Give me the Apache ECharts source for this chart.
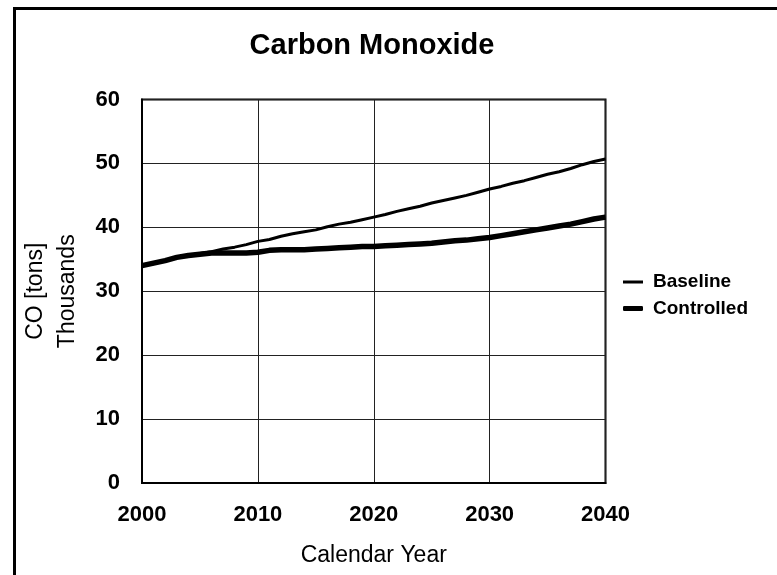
<!DOCTYPE html>
<html>
<head>
<meta charset="utf-8">
<script src="https://cdn.jsdelivr.net/npm/echarts@6/dist/echarts.min.js"></script>
<style>
  html, body { margin: 0; padding: 0; background: #fff; }
  #chart { width: 777px; height: 575px; }
</style>
</head>
<body>
<div id="chart"></div>
<script>
const years = [];
for (let y = 2000; y <= 2040; y++) years.push(y);

// CO emissions, thousands of tons
const baseline = [
  34.0, 34.4, 34.8, 35.3, 35.6, 35.9, 36.2, 36.6, 36.9, 37.3,
  37.8, 38.1, 38.6, 39.0, 39.3, 39.6, 40.1, 40.5, 40.8, 41.2,
  41.6, 42.0, 42.5, 42.9, 43.3, 43.8, 44.2, 44.6, 45.0, 45.5,
  46.0, 46.4, 46.9, 47.3, 47.8, 48.3, 48.7, 49.2, 49.8, 50.3,
  50.7
];
const controlled = [
  34.0, 34.4, 34.8, 35.3, 35.6, 35.8, 36.0, 36.0, 36.0, 36.0,
  36.1, 36.4, 36.5, 36.5, 36.5, 36.6, 36.7, 36.8, 36.9, 37.0,
  37.0, 37.1, 37.2, 37.3, 37.4, 37.5, 37.7, 37.9, 38.0, 38.2,
  38.4, 38.7, 39.0, 39.3, 39.6, 39.9, 40.2, 40.5, 40.9, 41.3,
  41.6
];

const font = "'Liberation Sans', Arial, sans-serif";

const chart = echarts.init(document.getElementById("chart"));

// one legend per series so each icon gets its own line thickness
const legendText = {
  fontSize: 19, fontWeight: "bold", color: "#000", fontFamily: font, padding: [6, 0, 0, 5],
};

const option = {
  animation: false,
  textStyle: { fontFamily: font, color: "#000" },
  title: {
    text: "Carbon Monoxide",
    left: 367,
    textAlign: "center",
    top: 26,
    textStyle: { fontSize: 29, fontWeight: "bold", color: "#000", fontFamily: font },
  },
  graphic: [
    {
      type: "rect",
      shape: { x: 14.5, y: 8.5, width: 900, height: 700 },
      style: { fill: "none", stroke: "#000", lineWidth: 3 },
      silent: true,
    },
  ],
  legend: [
    {
      left: 623,
      top: 272.5,
      padding: 0,
      itemWidth: 20,
      itemHeight: 3,
      icon: "rect",
      data: ["Baseline"],
      textStyle: legendText,
    },
    {
      left: 623,
      top: 299,
      padding: 0,
      itemWidth: 20,
      itemHeight: 5,
      icon: "roundRect",
      data: ["Controlled"],
      textStyle: legendText,
    },
  ],
  grid: {
    left: 142,
    right: 171.5,
    top: 99.5,
    bottom: 92,
    outerBoundsMode: "none",
    show: true,
    borderColor: "#000",
    borderWidth: 2,
  },
  xAxis: {
    type: "value",
    min: 2000,
    max: 2040,
    interval: 10,
    name: "Calendar Year",
    nameLocation: "middle",
    nameGap: 61,
    nameMoveOverlap: false,
    nameTextStyle: { fontSize: 23, color: "#000", fontFamily: font },
    axisLine: { show: true, lineStyle: { color: "#000", width: 2 } },
    axisTick: { show: false },
    axisLabel: {
      fontSize: 22, fontWeight: "bold", color: "#000", margin: 21, fontFamily: font,
      formatter: (v) => String(v),
    },
    splitLine: { show: true, lineStyle: { color: "#222", width: 1 } },
  },
  yAxis: {
    type: "value",
    min: 0,
    max: 60,
    interval: 10,
    name: "CO [tons]\nThousands",
    nameLocation: "middle",
    nameGap: 58,
    nameRotate: 90,
    nameMoveOverlap: false,
    nameTextStyle: { fontSize: 23, color: "#000", fontFamily: font, lineHeight: 32 },
    axisLine: { show: true, lineStyle: { color: "#000", width: 2 } },
    axisTick: { show: false },
    axisLabel: { fontSize: 22, fontWeight: "bold", color: "#000", margin: 22, fontFamily: font },
    splitLine: { show: true, lineStyle: { color: "#222", width: 1 } },
  },
  series: [
    {
      name: "Baseline",
      type: "line",
      data: years.map((y, i) => [y, baseline[i]]),
      symbol: "none",
      itemStyle: { color: "#000" },
      lineStyle: { color: "#000", width: 3 },
    },
    {
      name: "Controlled",
      type: "line",
      data: years.map((y, i) => [y, controlled[i]]),
      symbol: "none",
      itemStyle: { color: "#000" },
      lineStyle: { color: "#000", width: 5.5 },
    },
  ],
};

chart.setOption(option);
</script>
</body>
</html>
